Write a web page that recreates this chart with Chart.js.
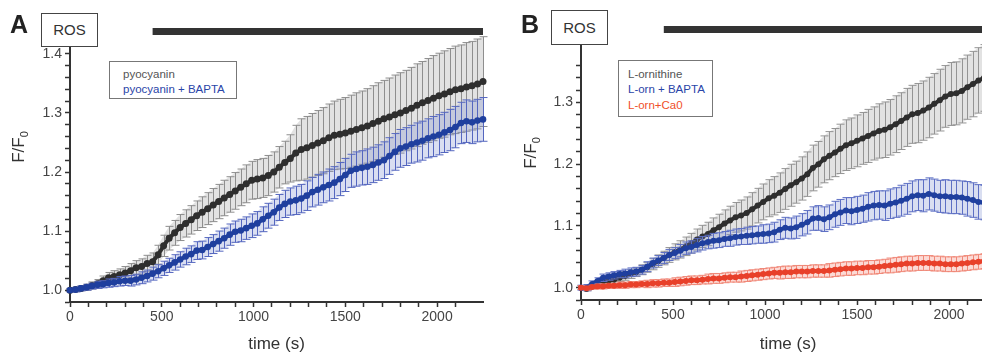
<!DOCTYPE html>
<html>
<head>
<meta charset="utf-8">
<script src="https://cdn.jsdelivr.net/npm/chart.js@4.4.1/dist/chart.umd.min.js"></script>
<style>
  html, body { margin:0; padding:0; background:#fff; overflow:hidden; }
  #wrap { position:relative; width:982px; height:358px; overflow:hidden; font-family:'Liberation Sans', Arial, sans-serif; }
  .abs { position:absolute; }
  .letter { font-weight:bold; font-size:25px; line-height:25px; color:#222; }
  .ros { background:#fff; border:1px solid #444; box-sizing:border-box; text-align:center; font-size:15px; color:#333; }
  .legend { background:#fff; border:1px solid #777; box-sizing:border-box; }
  .legend span { position:absolute; left:13px; font-size:11.5px; line-height:14px; white-space:nowrap; }
  .ytitle { width:60px; height:24px; line-height:24px; text-align:center; font-size:17px; color:#333; transform:rotate(-90deg); white-space:nowrap; }
  .ytitle sub { font-size:11px; vertical-align:-4px; }
</style>
</head>
<body>
<div id="wrap">
  <canvas id="cA" class="abs" width="491" height="358" style="left:0;top:0;width:491px;height:358px"></canvas>
  <canvas id="cB" class="abs" width="520" height="358" style="left:491px;top:0;width:520px;height:358px"></canvas>

  <div class="abs letter" style="left:10px;top:12px">A</div>
  <div class="abs ros" style="left:41px;top:13px;width:57px;height:34px;line-height:32px">ROS</div>
  <div class="abs legend" style="left:109px;top:61px;width:128px;height:38px">
    <span style="top:5px;color:#555">pyocyanin</span>
    <span style="top:20px;color:#2a45a8">pyocyanin + BAPTA</span>
  </div>
  <div class="abs ytitle" style="left:-11px;top:135px">F/F<sub>0</sub></div>

  <div class="abs letter" style="left:521px;top:12px">B</div>
  <div class="abs ros" style="left:551px;top:10px;width:57px;height:35px;line-height:33px">ROS</div>
  <div class="abs legend" style="left:618px;top:60px;width:95px;height:57px">
    <span style="left:9px;top:6px;color:#555">L-ornithine</span>
    <span style="left:9px;top:21px;color:#2a45a8">L-orn + BAPTA</span>
    <span style="left:9px;top:37px;color:#f0502a">L-orn+Ca0</span>
  </div>
  <div class="abs ytitle" style="left:501px;top:141px">F/F<sub>0</sub></div>
</div>

<script>
// ---------- DATA ----------
const times = [0,30,60,90,120,150,180,210,240,270,
  300,330,360,390,420,450,480,510,540,570,
  600,630,660,690,720,750,780,810,840,870,
  900,930,960,990,1020,1050,1080,1110,1140,1170,
  1200,1230,1260,1290,1320,1350,1380,1410,1440,1470,
  1500,1530,1560,1590,1620,1650,1680,1710,1740,1770,
  1800,1830,1860,1890,1920,1950,1980,2010,2040,2070,
  2100,2130,2160,2190,2220,2250];

const xTicksMajor = [0, 500, 1000, 1500, 2000];
const yTicksMajor = [1.0, 1.1, 1.2, 1.3, 1.4];
const treatmentStart = 450;
const treatmentEnd = 2250;

// Panel A
const pyoMean = [1.000,1.001,1.003,1.005,1.008,1.011,1.016,1.021,1.023,1.026,
  1.029,1.033,1.038,1.040,1.045,1.048,1.060,1.075,1.088,1.097,
  1.106,1.113,1.119,1.126,1.132,1.138,1.144,1.150,1.156,1.162,
  1.168,1.174,1.180,1.186,1.188,1.190,1.194,1.200,1.208,1.216,
  1.223,1.232,1.238,1.241,1.245,1.249,1.253,1.258,1.262,1.264,
  1.266,1.269,1.272,1.275,1.278,1.282,1.286,1.290,1.293,1.297,
  1.300,1.304,1.308,1.313,1.317,1.321,1.325,1.329,1.332,1.336,
  1.339,1.341,1.344,1.346,1.349,1.353];
const pyoErr = [0.002,0.003,0.004,0.005,0.006,0.007,0.008,0.009,0.010,0.010,
  0.011,0.012,0.012,0.013,0.014,0.015,0.016,0.018,0.020,0.021,
  0.022,0.023,0.024,0.025,0.026,0.027,0.028,0.029,0.030,0.030,
  0.031,0.031,0.032,0.032,0.033,0.033,0.034,0.034,0.035,0.036,
  0.040,0.047,0.052,0.053,0.054,0.055,0.056,0.057,0.058,0.059,
  0.060,0.061,0.062,0.062,0.063,0.064,0.065,0.065,0.066,0.067,
  0.068,0.068,0.069,0.070,0.070,0.071,0.072,0.072,0.073,0.073,
  0.074,0.074,0.075,0.075,0.076,0.076];
const pyoBaptaMean = [1.000,1.001,1.003,1.005,1.007,1.009,1.010,1.012,1.013,1.015,
  1.016,1.016,1.018,1.021,1.024,1.028,1.032,1.037,1.042,1.047,
  1.052,1.057,1.061,1.067,1.068,1.073,1.078,1.083,1.088,1.094,
  1.099,1.101,1.105,1.109,1.113,1.120,1.126,1.132,1.140,1.146,
  1.150,1.152,1.155,1.160,1.166,1.170,1.174,1.178,1.182,1.188,
  1.195,1.202,1.205,1.207,1.209,1.212,1.216,1.220,1.227,1.234,
  1.240,1.243,1.247,1.250,1.253,1.257,1.260,1.263,1.267,1.271,
  1.276,1.283,1.286,1.284,1.287,1.289];
const pyoBaptaErr = [0.003,0.004,0.004,0.005,0.005,0.006,0.006,0.007,0.007,0.008,
  0.008,0.009,0.009,0.010,0.010,0.011,0.011,0.012,0.012,0.013,
  0.013,0.014,0.014,0.015,0.015,0.016,0.016,0.017,0.017,0.018,
  0.018,0.019,0.019,0.020,0.020,0.021,0.021,0.022,0.022,0.023,
  0.023,0.024,0.024,0.025,0.025,0.026,0.026,0.027,0.027,0.028,
  0.028,0.028,0.029,0.029,0.030,0.030,0.030,0.031,0.031,0.031,
  0.032,0.032,0.032,0.033,0.033,0.033,0.034,0.034,0.034,0.035,
  0.035,0.035,0.036,0.036,0.036,0.037];

// Panel B
const ornMean = [1.000,0.998,1.002,1.005,1.009,1.011,1.013,1.016,1.019,1.022,
  1.025,1.029,1.033,1.038,1.043,1.048,1.053,1.058,1.062,1.067,
  1.072,1.078,1.083,1.087,1.093,1.098,1.104,1.109,1.114,1.117,
  1.121,1.127,1.133,1.139,1.145,1.149,1.154,1.160,1.166,1.171,
  1.177,1.184,1.194,1.200,1.208,1.214,1.219,1.225,1.231,1.234,
  1.238,1.242,1.246,1.250,1.254,1.256,1.260,1.265,1.270,1.276,
  1.281,1.283,1.287,1.292,1.298,1.304,1.310,1.314,1.315,1.319,
  1.325,1.330,1.336,1.340,1.344,1.348];
const ornErr = [0.003,0.003,0.004,0.004,0.005,0.005,0.006,0.006,0.007,0.007,
  0.007,0.008,0.008,0.009,0.010,0.011,0.012,0.013,0.014,0.015,
  0.016,0.017,0.018,0.019,0.020,0.021,0.022,0.023,0.024,0.025,
  0.026,0.027,0.028,0.029,0.030,0.031,0.032,0.033,0.034,0.034,
  0.035,0.036,0.037,0.037,0.038,0.039,0.039,0.040,0.041,0.041,
  0.042,0.042,0.043,0.043,0.044,0.045,0.045,0.046,0.046,0.047,
  0.047,0.048,0.048,0.049,0.049,0.050,0.050,0.051,0.051,0.052,
  0.052,0.053,0.053,0.054,0.054,0.055];
const ornBaptaMean = [1.000,1.000,1.006,1.011,1.016,1.018,1.020,1.022,1.023,1.025,
  1.026,1.029,1.034,1.040,1.044,1.048,1.053,1.056,1.060,1.064,
  1.066,1.069,1.072,1.074,1.076,1.077,1.079,1.080,1.082,1.083,
  1.084,1.085,1.086,1.087,1.088,1.090,1.094,1.097,1.096,1.098,
  1.102,1.106,1.112,1.113,1.111,1.114,1.119,1.122,1.125,1.124,
  1.126,1.128,1.131,1.133,1.134,1.133,1.136,1.138,1.141,1.144,
  1.148,1.150,1.149,1.152,1.150,1.148,1.148,1.147,1.147,1.146,
  1.144,1.142,1.139,1.138,1.137,1.136];
const ornBaptaErr = [0.004,0.005,0.005,0.005,0.006,0.006,0.006,0.006,0.007,0.007,
  0.007,0.007,0.008,0.008,0.008,0.009,0.009,0.009,0.010,0.010,
  0.010,0.011,0.011,0.011,0.012,0.012,0.012,0.013,0.013,0.013,
  0.014,0.014,0.014,0.015,0.015,0.016,0.016,0.017,0.017,0.018,
  0.018,0.019,0.019,0.020,0.020,0.020,0.021,0.021,0.021,0.022,
  0.022,0.022,0.023,0.023,0.023,0.024,0.024,0.024,0.025,0.025,
  0.025,0.025,0.026,0.026,0.026,0.026,0.027,0.027,0.027,0.027,
  0.028,0.028,0.028,0.028,0.029,0.029];
const ornCa0Mean = [1.000,0.999,1.001,1.002,1.002,1.003,1.003,1.004,1.004,1.005,
  1.005,1.006,1.006,1.007,1.007,1.008,1.008,1.009,1.010,1.011,
  1.012,1.012,1.013,1.014,1.015,1.015,1.016,1.017,1.017,1.018,
  1.019,1.020,1.021,1.022,1.023,1.024,1.024,1.025,1.025,1.026,
  1.026,1.026,1.027,1.027,1.027,1.028,1.029,1.030,1.031,1.031,
  1.032,1.032,1.033,1.033,1.034,1.035,1.036,1.037,1.038,1.039,
  1.039,1.040,1.040,1.040,1.039,1.039,1.038,1.038,1.038,1.039,
  1.040,1.041,1.042,1.043,1.043,1.044];
const ornCa0Err = [0.003,0.003,0.003,0.004,0.004,0.004,0.004,0.005,0.005,0.005,
  0.005,0.005,0.006,0.006,0.006,0.006,0.006,0.007,0.007,0.007,
  0.007,0.007,0.007,0.008,0.008,0.008,0.008,0.008,0.008,0.009,
  0.009,0.009,0.009,0.009,0.009,0.009,0.010,0.010,0.010,0.010,
  0.010,0.010,0.010,0.010,0.010,0.011,0.011,0.011,0.011,0.011,
  0.011,0.011,0.011,0.011,0.011,0.011,0.012,0.012,0.012,0.012,
  0.012,0.012,0.012,0.012,0.012,0.012,0.012,0.012,0.012,0.012,
  0.012,0.012,0.012,0.012,0.012,0.012];

// ---------- RENDER ----------
Chart.defaults.font.family = "'Liberation Sans', Arial, sans-serif";
Chart.defaults.color = '#444';

const toPts = (vals) => vals.map((v, i) => ({ x: times[i], y: v }));

const errorBarPlugin = {
  id: 'errorBars',
  beforeDatasetDraw(chart, args) {
    const ds = chart.data.datasets[args.index];
    if (!ds.errors) return;
    const ctx = chart.ctx, xs = chart.scales.x, ys = chart.scales.y;
    const cap = ds.capHalf || 4;
    const pts = ds.data.map((p, i) => ({
      x: xs.getPixelForValue(p.x),
      yh: ys.getPixelForValue(p.y + ds.errors[i]),
      yl: ys.getPixelForValue(p.y - ds.errors[i])
    }));
    ctx.save();
    // light band behind the dense bars
    ctx.fillStyle = ds.bandColor;
    ctx.beginPath();
    pts.forEach((q, i) => i ? ctx.lineTo(q.x, q.yh) : ctx.moveTo(q.x, q.yh));
    for (let i = pts.length - 1; i >= 0; i--) ctx.lineTo(pts[i].x, pts[i].yl);
    ctx.closePath();
    ctx.fill();
    // bars with caps
    ctx.strokeStyle = ds.errorColor;
    ctx.lineWidth = 1;
    ctx.beginPath();
    pts.forEach((q) => {
      const x = Math.round(q.x) + 0.5;
      ctx.moveTo(x, q.yh); ctx.lineTo(x, q.yl);
      ctx.moveTo(x - cap, q.yh); ctx.lineTo(x + cap, q.yh);
      ctx.moveTo(x - cap, q.yl); ctx.lineTo(x + cap, q.yl);
    });
    ctx.stroke();
    ctx.restore();
  }
};

const treatBarPlugin = {
  id: 'treatBar',
  afterDraw(chart, args, opts) {
    const xs = chart.scales.x, ctx = chart.ctx;
    const x0 = xs.getPixelForValue(treatmentStart);
    const x1 = xs.getPixelForValue(treatmentEnd);
    ctx.save();
    ctx.fillStyle = '#333';
    ctx.fillRect(x0, opts.top, x1 - x0, opts.height);
    ctx.restore();
  }
};

function makeDataset(label, vals, errs, color, errColor, bandColor, radius) {
  return {
    label, data: toPts(vals), errors: errs, errorColor: errColor, bandColor,
    borderColor: color, backgroundColor: color, borderWidth: 4,
    pointRadius: radius, pointBorderWidth: 0, pointBackgroundColor: color,
    tension: 0, clip: false, capHalf: 4
  };
}

function makeChart(canvasId, datasets, cfg) {
  return new Chart(document.getElementById(canvasId), {
    type: 'line',
    data: { datasets },
    plugins: [errorBarPlugin, treatBarPlugin],
    options: {
      responsive: false, animation: false, devicePixelRatio: 1,
      layout: { padding: { top: cfg.top, right: cfg.right, left: 0, bottom: 0 } },
      plugins: { legend: { display: false }, tooltip: { enabled: false },
                 treatBar: { top: cfg.barTop, height: 7 } },
      scales: {
        x: {
          type: 'linear', min: 0, max: 2250,
          afterFit: (s) => { s.height = cfg.xHeight; },
          afterBuildTicks: (s) => { s.ticks = s.ticks.filter(t => Math.abs(t.value / 100 - Math.round(t.value / 100)) < 1e-6); },
          ticks: { stepSize: 100, autoSkip: false, maxRotation: 0, padding: 2,
                   font: { size: 14 }, color: '#444',
                   callback: (v) => xTicksMajor.includes(Math.round(v)) && Math.abs(v - Math.round(v)) < 1e-6 ? String(Math.round(v)) : '' },
          grid: { drawOnChartArea: false, drawTicks: true, tickLength: 5, tickColor: '#333', tickWidth: 1.5 },
          border: { display: true, color: '#333', width: 2 },
          title: { display: true, text: 'time (s)', font: { size: 17 }, color: '#333', padding: { top: 0, bottom: 3 } }
        },
        y: {
          type: 'linear', min: 0.98, max: cfg.yMax,
          afterFit: (s) => { s.width = cfg.yWidth; },
          afterBuildTicks: (s) => { s.ticks = s.ticks.filter(t => Math.abs(t.value / 0.02 - Math.round(t.value / 0.02)) < 1e-6); },
          ticks: { stepSize: 0.02, autoSkip: false, padding: 3, font: { size: 14 }, color: '#444',
                   callback: (v) => { const m = yTicksMajor.find(t => Math.abs(t - v) < 1e-6); return m !== undefined ? m.toFixed(1) : ''; } },
          grid: { drawOnChartArea: false, drawTicks: true, tickLength: 5, tickColor: '#333', tickWidth: 1.5 },
          border: { display: true, color: '#333', width: 2 }
        }
      }
    }
  });
}

makeChart('cA', [
  makeDataset('pyocyanin + BAPTA', pyoBaptaMean, pyoBaptaErr, '#1f3f9e', '#5466bf', 'rgba(120,135,205,0.28)', 3.3),
  makeDataset('pyocyanin', pyoMean, pyoErr, '#2e2e2e', '#8e8e8e', 'rgba(190,190,190,0.45)', 3.5)
], { top: 42, right: 8, xHeight: 56, yWidth: 70, yMax: 1.42, barTop: 28 });

makeChart('cB', [
  makeDataset('L-orn+Ca0', ornCa0Mean, ornCa0Err, '#e8402a', '#f08878', 'rgba(245,150,135,0.35)', 3),
  makeDataset('L-orn + BAPTA', ornBaptaMean, ornBaptaErr, '#1f3f9e', '#5d6fc4', 'rgba(120,135,205,0.28)', 3),
  makeDataset('L-ornithine', ornMean, ornErr, '#2e2e2e', '#949494', 'rgba(190,190,190,0.45)', 3)
], { top: 44, right: 16, xHeight: 58, yWidth: 90, yMax: 1.395, barTop: 26 });
</script>
</body>
</html>
